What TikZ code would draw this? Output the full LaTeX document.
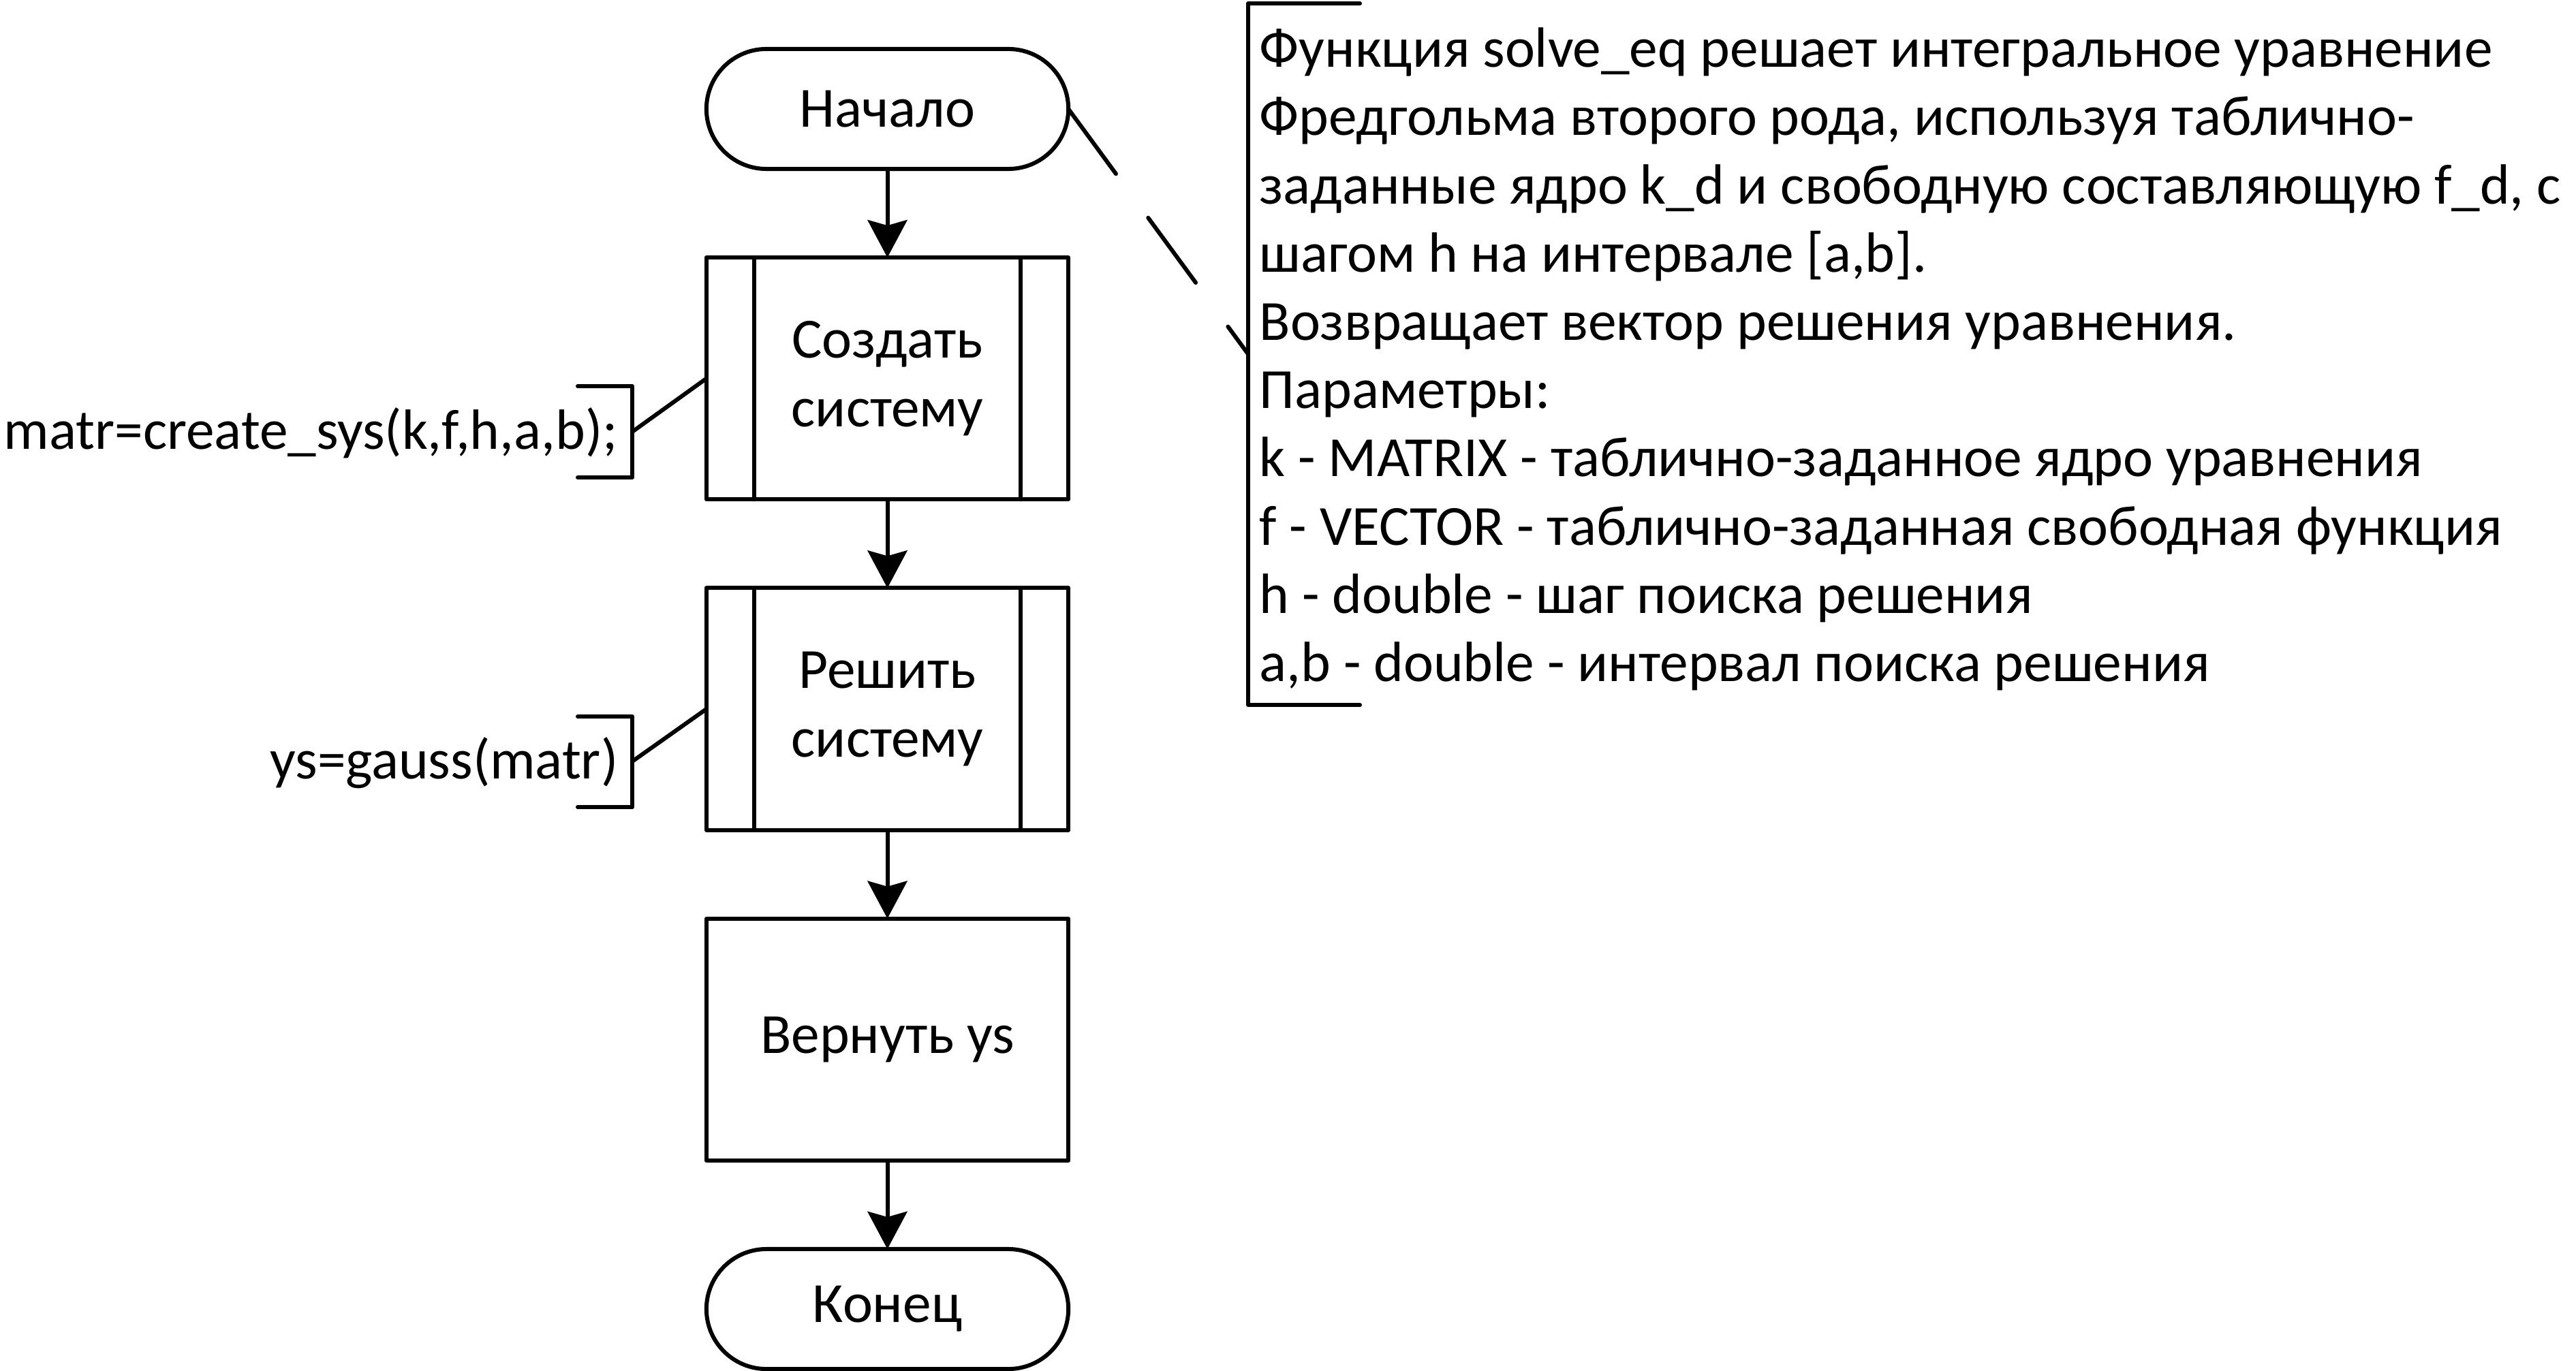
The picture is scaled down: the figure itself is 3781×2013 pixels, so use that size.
\documentclass[tikz,border=0pt]{standalone}
\usepackage{fontspec}
\setmainfont{Carlito}
\usepackage{tikz}
\usetikzlibrary{positioning,arrows.meta}
\tikzset{
  blk/.style={draw, line width=0.06cm, line join=round, outer sep=0pt, inner sep=0pt, align=center, minimum width=5.31cm},
  term/.style={blk, minimum height=1.76cm, rounded corners=0.88cm},
  proc/.style={blk, minimum height=3.55cm},
  flow/.style={line width=0.06cm, -{Stealth[length=0.55cm, width=0.58cm, inset=0.08cm]}},
  link/.style={line width=0.06cm, line cap=round, line join=round}
}

\begin{document}
\begin{tikzpicture}[x=0.01cm, y=-0.01cm, node distance=1.3cm,
    every node/.style={font=\fontsize{23.7}{28.5}\selectfont}]
    \useasboundingbox (0,0) rectangle (3781,2013);
    \node[term] (start) at (1302.5,160) {Начало};
    \node[proc, below=of start] (create) {Создать\\систему};
    \node[proc, below=of create] (solve) {Решить\\систему};
    \node[proc, below=of solve] (ret) {Вернуть ys};
    \node[term, below=of ret] (stop) {Конец};
    \foreach \n in {create,solve} {
        \draw[link] ([xshift=0.7cm]\n.north west) -- ([xshift=0.7cm]\n.south west)
            ([xshift=-0.7cm]\n.north east) -- ([xshift=-0.7cm]\n.south east);
    }
    \draw[flow] (start) -- (create);
    \draw[flow] (create) -- (solve);
    \draw[flow] (solve) -- (ret);
    \draw[flow] (ret) -- (stop);

    % annotations on the left
    \node[anchor=base east, inner sep=0pt] (anncreate) at (907,660) {matr=create\_sys(k,f,h,a,b);};
    \coordinate (brkcreate) at (928,634);
    \draw[link] (848,567) -- (928,567) -- (928,701) -- (848,701);
    \draw[link] (brkcreate) -- (create.west);
    \node[anchor=base east, inner sep=0pt] (annsolve) at (908,1143) {ys=gauss(matr)};
    \coordinate (brksolve) at (928,1118);
    \draw[link] (848,1052) -- (928,1052) -- (928,1185) -- (848,1185);
    \draw[link] (brksolve) -- (solve.west);

    % comment
    \node[anchor=north west, align=left, inner sep=0pt] (note) at (1848,40)
        {Функция solve\_eq решает интегральное уравнение\\
         Фредгольма второго рода, используя таблично-\\
         заданные ядро k\_d и свободную составляющую f\_d, с\\
         шагом h на интервале [a,b].\\
         Возвращает вектор решения уравнения.\\
         Параметры:\\
         k - MATRIX - таблично-заданное ядро уравнения\\
         f - VECTOR - таблично-заданная свободная функция\\
         h - double - шаг поиска решения\\
         a,b - double - интервал поиска решения};
    \coordinate (brknote) at (1832,520);
    \draw[link] (1996,5) -- (1832,5) -- (1832,1035) -- (1996,1035);
    \draw[link, dash pattern=on 1.18cm off 0.8cm] (start.east) -- (brknote);
\end{tikzpicture}
\end{document}
